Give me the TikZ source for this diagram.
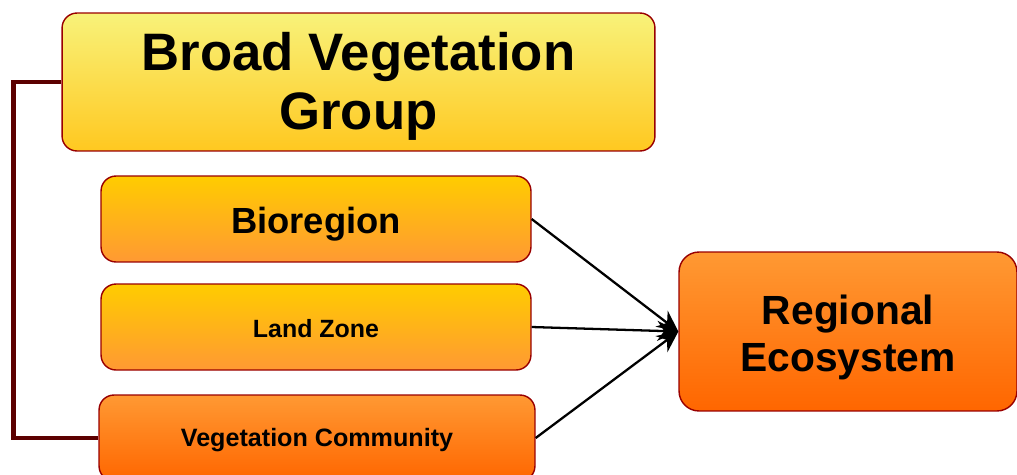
\documentclass[tikz,border=0pt]{standalone}
\usepackage{fontspec}
\setmainfont{Liberation Sans}
\usetikzlibrary{arrows.meta}
\definecolor{boxline}{HTML}{990000}
\definecolor{elbow}{HTML}{5C0000}
\definecolor{paleyellow}{HTML}{F8F27A}
\definecolor{gold}{HTML}{FFC820}
\definecolor{amber}{HTML}{FFCC00}
\definecolor{lightorange}{HTML}{FF9933}
\definecolor{deeporange}{HTML}{FF6600}
\tikzset{
  levelbox/.style={draw=boxline,line width=0.8pt,rounded corners=0.3cm,
    inner sep=0pt,align=center,font=\bfseries},
  feeds/.style={-{Stealth[length=0.42cm,width=0.4cm]},line width=1.3pt}
}
\begin{document}
\begin{tikzpicture}[x=0.02cm,y=-0.02cm]
  \useasboundingbox (0,0) rectangle (1017,474);
  \node[levelbox,top color=paleyellow,bottom color=gold,minimum width=11.86cm,minimum height=2.76cm,
    font=\bfseries\fontsize{30}{33.5}\selectfont] (bvg) at (358.5,82) {\rule{0pt}{0.88em}Broad Vegetation\\Group};
  \node[levelbox,top color=amber,bottom color=lightorange,minimum width=8.6cm,minimum height=1.72cm,
    text height=20pt,text depth=4pt,font=\bfseries\fontsize{20.7}{24}\selectfont] (bio) at (316,219) {Bioregion};
  \node[levelbox,top color=amber,bottom color=lightorange,minimum width=8.6cm,minimum height=1.72cm,
    text height=14pt,text depth=2.6pt,font=\bfseries\fontsize{14.2}{17}\selectfont] (land) at (316,327) {Land Zone};
  \node[levelbox,top color=lightorange,bottom color=deeporange,minimum width=8.72cm,minimum height=1.72cm,
    text height=13pt,text depth=2.8pt,font=\bfseries\fontsize{14.3}{17}\selectfont] (veg) at (317,438) {Vegetation Community};
  \node[levelbox,rounded corners=0.4cm,top color=lightorange,bottom color=deeporange,minimum width=6.76cm,minimum height=3.18cm,
    font=\bfseries\fontsize{23.2}{26.6}\selectfont] (re) at (848,331.5) {\rule{0pt}{1.02em}Regional\\Ecosystem};
  % elbow from the group down to the community
  \draw[elbow,line width=2.8pt] (bvg.west) -- ++(-48,0) |- (veg.west);
  % arrows into the regional ecosystem
  \draw[feeds] (bio.east) -- (re.west);
  \draw[feeds] (land.east) -- (re.west);
  \draw[feeds] (veg.east) -- (re.west);
\end{tikzpicture}
\end{document}
